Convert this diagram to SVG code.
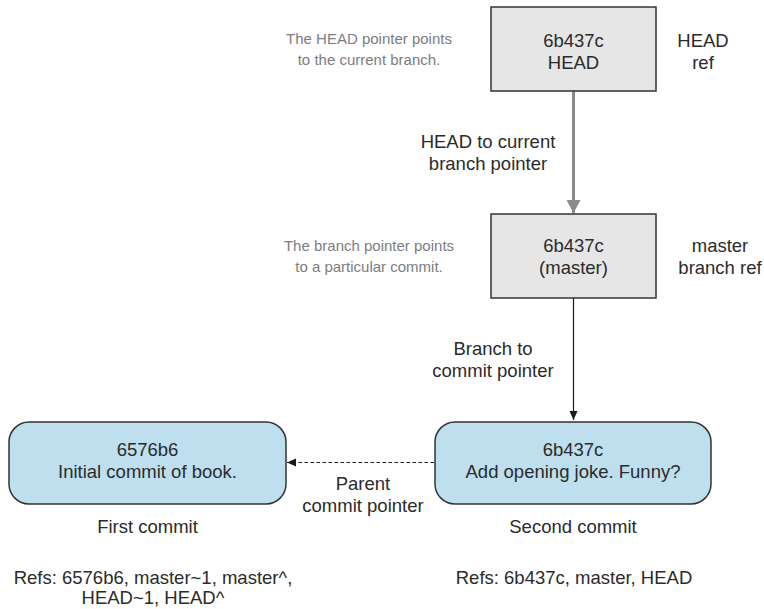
<svg xmlns="http://www.w3.org/2000/svg" width="764" height="609" viewBox="0 0 764 609">
  <style>
    text { font-family: "Liberation Sans", Arial, sans-serif; fill: #2b2b2b; font-size: 18.5px; text-anchor: middle; }
    .note { fill: #7d7d7f; font-size: 15px; }
    .ref { fill: #e6e6e7; stroke: #333333; stroke-width: 1.5; }
    .commit { fill: #bedfee; stroke: #333333; stroke-width: 1.5; }
    .grey-arrow { stroke: #8b8b8d; stroke-width: 3; fill: none; }
    .black-arrow { stroke: #1a1a1a; stroke-width: 1.2; fill: none; }
    .dashed { stroke: #1a1a1a; stroke-width: 1.2; fill: none; stroke-dasharray: 3.5 2.5; }
  </style>
  <defs>
    <marker id="greyHead" markerUnits="userSpaceOnUse" markerWidth="14" markerHeight="20" refX="13" refY="7" orient="auto">
      <path d="M0,0 L13,7 L0,14 z" fill="#8b8b8d"/>
    </marker>
    <marker id="blackHead" markerUnits="userSpaceOnUse" markerWidth="10" markerHeight="10" refX="9" refY="4" orient="auto">
      <path d="M0,0 L9,4 L0,8 z" fill="#1a1a1a"/>
    </marker>
  </defs>

  <!-- annotations -->
  <text class="note" x="369" y="44">The HEAD pointer points</text>
  <text class="note" x="369" y="65">to the current branch.</text>
  <text class="note" x="369" y="251">The branch pointer points</text>
  <text class="note" x="369" y="272">to a particular commit.</text>

  <g id="connectors">
    <line class="grey-arrow" x1="573.5" y1="91" x2="573.5" y2="213" marker-end="url(#greyHead)"/>
    <line class="black-arrow" x1="573.5" y1="298" x2="573.5" y2="420" marker-end="url(#blackHead)"/>
    <line class="dashed" x1="434" y1="462.5" x2="287" y2="462.5" marker-end="url(#blackHead)"/>
    <text x="488" y="148">HEAD to current</text>
    <text x="488" y="170">branch pointer</text>
    <text x="493" y="355">Branch to</text>
    <text x="493" y="377">commit pointer</text>
    <text x="363" y="490">Parent</text>
    <text x="363" y="512">commit pointer</text>
  </g>

  <g id="head-ref">
    <rect class="ref" x="491" y="7" width="165" height="84"/>
    <text x="573.5" y="47">6b437c</text>
    <text x="573.5" y="69">HEAD</text>
    <text x="703" y="47">HEAD</text>
    <text x="703" y="69">ref</text>
  </g>

  <g id="master-ref">
    <rect class="ref" x="491" y="214" width="165" height="84"/>
    <text x="573.5" y="252">6b437c</text>
    <text x="573.5" y="274">(master)</text>
    <text x="720" y="252">master</text>
    <text x="720" y="274">branch ref</text>
  </g>

  <g id="first-commit">
    <rect class="commit" x="9" y="422" width="277" height="82" rx="20" ry="20"/>
    <text x="147.5" y="456">6576b6</text>
    <text x="147.5" y="478">Initial commit of book.</text>
    <text x="147.5" y="533">First commit</text>
    <text x="153" y="584">Refs: 6576b6, master~1, master^,</text>
    <text x="153" y="604">HEAD~1, HEAD^</text>
  </g>

  <g id="second-commit">
    <rect class="commit" x="435" y="422" width="276" height="82" rx="20" ry="20"/>
    <text x="573" y="456">6b437c</text>
    <text x="573" y="478">Add opening joke. Funny?</text>
    <text x="573" y="533">Second commit</text>
    <text x="574" y="584">Refs: 6b437c, master, HEAD</text>
  </g>
</svg>
